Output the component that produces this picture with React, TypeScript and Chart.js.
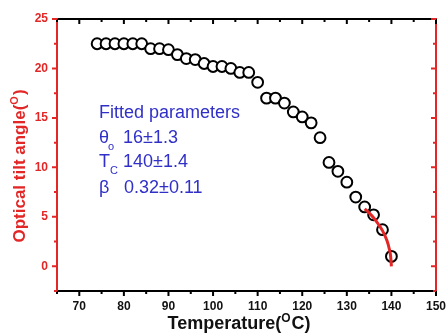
import React, { useEffect, useRef } from "react";
import { Chart, registerables } from "chart.js";

Chart.register(...registerables);

const temperatures = [74, 76, 78, 80, 82, 84, 86, 88, 90, 92, 94, 96, 98, 100, 102, 104, 106, 108, 110, 112, 114, 116, 118, 120, 122, 124, 126, 128, 130, 132, 134, 136, 138, 140];
const tiltAngles = [22.5, 22.5, 22.5, 22.5, 22.5, 22.5, 22.0, 22.0, 21.9, 21.4, 21.0, 20.9, 20.5, 20.2, 20.2, 20.0, 19.6, 19.6, 18.6, 17.0, 17.0, 16.5, 15.6, 15.1, 14.5, 13.0, 10.5, 9.6, 8.5, 7.0, 6.0, 5.2, 3.7, 1.0];

const fitTemperatures = [134, 135, 136, 137, 138, 139, 139.5, 139.8, 140];
const fitAngles = [5.8, 5.4, 4.9, 4.3, 3.6, 2.6, 1.8, 1.1, 0];

const xTickLabels = [70, 80, 90, 100, 110, 120, 130, 140, 150];
const yTickLabels = [0, 5, 10, 15, 20, 25];

const RED = "#e32626";
const BLUE = "#3030c8";
const FONT = '"Liberation Sans", Arial, sans-serif';

const decorPlugin = {
  id: "decor",
  afterDraw(chart: any) {
    const { ctx, chartArea: a, scales } = chart;
    const xs = scales.x;
    const ys = scales.y;
    ctx.save();
    ctx.lineWidth = 2;
    ctx.strokeStyle = "#000";
    for (let v = 65; v <= 150; v += 5) {
      const px = xs.getPixelForValue(v);
      const len = v % 10 === 0 ? 5 : 3;
      ctx.beginPath();
      ctx.moveTo(px, a.bottom);
      ctx.lineTo(px, a.bottom + len);
      ctx.moveTo(px, a.top);
      ctx.lineTo(px, a.top + len);
      ctx.stroke();
    }
    ctx.strokeStyle = RED;
    for (let v = -2.5; v <= 25; v += 2.5) {
      const py = ys.getPixelForValue(v);
      const len = v % 5 === 0 ? 5 : 3;
      ctx.beginPath();
      ctx.moveTo(a.left - len, py);
      ctx.lineTo(a.left, py);
      ctx.moveTo(a.right - len, py);
      ctx.lineTo(a.right, py);
      ctx.stroke();
    }

    // x title
    ctx.fillStyle = "#111";
    ctx.textBaseline = "alphabetic";
    const big = `bold 18px ${FONT}`;
    const sup = `bold 12px ${FONT}`;
    ctx.font = big;
    const p1 = "Temperature(";
    const p3 = "C)";
    const w1 = ctx.measureText(p1).width;
    const w3 = ctx.measureText(p3).width;
    ctx.font = sup;
    const w2 = ctx.measureText("O").width;
    const total = w1 + w2 + 1 + w3;
    const x0 = 239 - total / 2;
    const by = 329;
    ctx.font = big;
    ctx.textAlign = "left";
    ctx.fillText(p1, x0, by);
    ctx.font = sup;
    ctx.fillText("O", x0 + w1, by - 7);
    ctx.font = big;
    ctx.fillText(p3, x0 + w1 + w2 + 1, by);

    // y title
    ctx.save();
    ctx.translate(25, 166);
    ctx.rotate(-Math.PI / 2);
    ctx.fillStyle = RED;
    ctx.font = `bold 17px ${FONT}`;
    const q1 = "Optical tilt angle(";
    const q3 = ")";
    const v1 = ctx.measureText(q1).width;
    const v3 = ctx.measureText(q3).width;
    ctx.font = `bold 11px ${FONT}`;
    const v2 = ctx.measureText("O").width;
    const tot2 = v1 + v2 + 1 + v3;
    const s0 = -tot2 / 2;
    ctx.font = `bold 17px ${FONT}`;
    ctx.fillText(q1, s0, 0);
    ctx.font = `bold 11px ${FONT}`;
    ctx.fillText("O", s0 + v1, -7);
    ctx.font = `bold 17px ${FONT}`;
    ctx.fillText(q3, s0 + v1 + v2 + 1, 0);
    ctx.restore();

    // fitted parameters annotation
    const L = 99;
    const t = a.top;
    const f = `18px ${FONT}`;
    const fs = `11px ${FONT}`;
    ctx.fillStyle = BLUE;
    ctx.font = f;
    ctx.fillText("Fitted parameters", L, t + 99);
    ctx.fillText("\u03b8", L, t + 124);
    ctx.font = fs;
    ctx.fillText("o", L + 9, t + 131);
    ctx.font = f;
    ctx.fillText("16\u00b11.3", L + 24, t + 124);
    ctx.fillText("T", L, t + 148);
    ctx.font = fs;
    ctx.fillText("C", L + 11, t + 155);
    ctx.font = f;
    ctx.fillText("140\u00b11.4", L + 24, t + 148);
    ctx.fillText("\u03b2", L, t + 174);
    ctx.fillText("0.32\u00b10.11", L + 25, t + 174);
    ctx.restore();
  },
};

const noPad = (s: any) => {
  s.paddingLeft = 0;
  s.paddingRight = 0;
  s.paddingTop = 0;
  s.paddingBottom = 0;
};

export default function App() {
  const ref = useRef<HTMLCanvasElement | null>(null);
  useEffect(() => {
    document.body.style.margin = "0";
    const canvas = ref.current;
    if (!canvas) return;
    const chart = new Chart(canvas, {
      type: "scatter",
      data: {
        datasets: [
          {
            type: "line",
            label: "fit",
            data: fitTemperatures.map((x, i) => ({ x, y: fitAngles[i] })),
            borderColor: RED,
            borderWidth: 3,
            pointRadius: 0,
            fill: false,
            cubicInterpolationMode: "monotone",
            order: 0,
            xAxisID: "x",
            yAxisID: "y",
          } as any,
          {
            label: "data",
            data: temperatures.map((x, i) => ({ x, y: tiltAngles[i] })),
            pointStyle: "circle",
            pointRadius: 5.4,
            pointBorderWidth: 2,
            borderColor: "#000",
            backgroundColor: "#fff",
            pointBackgroundColor: "#fff",
            pointBorderColor: "#000",
            showLine: false,
            order: 1,
            xAxisID: "x",
            yAxisID: "y",
          } as any,
        ],
      },
      options: {
        animation: false,
        responsive: false,
        maintainAspectRatio: false,
        layout: { padding: 0 },
        plugins: { legend: { display: false }, tooltip: { enabled: false }, title: { display: false } },
        scales: {
          x: {
            type: "linear",
            position: "bottom",
            min: 65,
            max: 150,
            afterBuildTicks: (s: any) => {
              s.ticks = xTickLabels.map((v) => ({ value: v }));
            },
            ticks: { color: "#111", font: { size: 12, weight: "bold", family: FONT }, padding: 8, maxRotation: 0, autoSkip: false },
            grid: { display: false, drawTicks: false },
            border: { display: true, color: "#000", width: 2 },
            afterFit: (s: any) => {
              s.height = 43;
              noPad(s);
            },
          },
          x2: {
            type: "linear",
            position: "top",
            min: 65,
            max: 150,
            ticks: { display: false },
            grid: { display: false, drawTicks: false },
            border: { display: true, color: "#000", width: 2 },
            afterFit: (s: any) => {
              s.height = 19;
              noPad(s);
            },
          },
          y: {
            type: "linear",
            position: "left",
            min: -2.5,
            max: 25,
            afterBuildTicks: (s: any) => {
              s.ticks = yTickLabels.map((v) => ({ value: v }));
            },
            ticks: { color: RED, font: { size: 12, weight: "bold", family: FONT }, padding: 9, autoSkip: false },
            grid: { display: false, drawTicks: false },
            border: { display: true, color: RED, width: 2 },
            afterFit: (s: any) => {
              s.width = 57;
              noPad(s);
            },
          },
          y2: {
            type: "linear",
            position: "right",
            min: -2.5,
            max: 25,
            ticks: { display: false },
            grid: { display: false, drawTicks: false },
            border: { display: true, color: RED, width: 2 },
            afterFit: (s: any) => {
              s.width = 10;
              noPad(s);
            },
          },
        },
      } as any,
      plugins: [decorPlugin],
    });
    return () => chart.destroy();
  }, []);
  return (
    <div style={{ width: 446, height: 334, background: "#fff" }}>
      <canvas ref={ref} width={446} height={334} style={{ display: "block" }} />
    </div>
  );
}
